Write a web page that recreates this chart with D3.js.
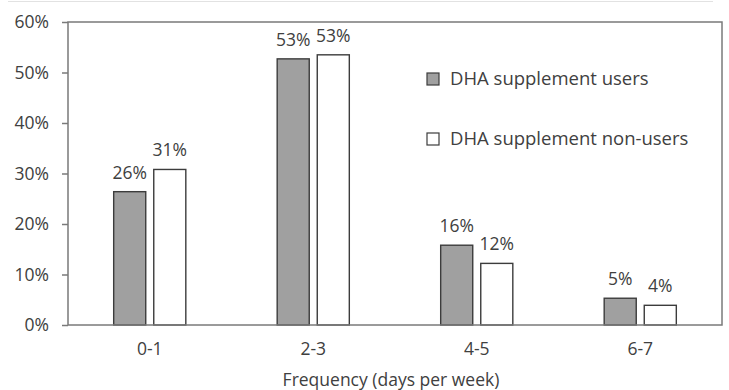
<!DOCTYPE html>
<html>
<head>
<meta charset="utf-8">
<script src="https://cdn.jsdelivr.net/npm/d3@7"></script>
<style>
  html, body { margin: 0; padding: 0; background: #fff; }
  svg { display: block; }
  text { font-family: "Open Sans", sans-serif; fill: #404040; }
</style>
</head>
<body>
<svg id="chart" width="729" height="390"></svg>
<script>
// Frequency categories (days per week)
const categories = ["0-1", "2-3", "4-5", "6-7"];
// Share of respondents in each frequency group (%)
const users = [26.4, 52.7, 15.8, 5.3];
const nonUsers = [30.8, 53.5, 12.2, 3.9];
// Labels printed above the bars
const userLabels = ["26%", "53%", "16%", "5%"];
const nonUserLabels = ["31%", "53%", "12%", "4%"];
const seriesNames = ["DHA supplement users", "DHA supplement non-users"];
const yTicks = [0, 10, 20, 30, 40, 50, 60];

const svg = d3.select("#chart");
const margin = { left: 68, right: 7, top: 22, bottom: 65 };
const W = 729, H = 390;
const x0 = margin.left, x1 = W - margin.right;
const yTop = margin.top, yBot = H - margin.bottom;
const fs = 17.5;

const x = d3.scaleBand().domain(categories).range([x0, x1]).padding(0);
const xs = d3.scaleBand().domain(["users", "non"]).range([0, x.bandwidth()])
  .paddingInner(0.2).paddingOuter(1.14);
const y = d3.scaleLinear().domain([0, 60]).range([yBot, yTop]);

// faint rule across the very top
svg.append("line").attr("x1", 8).attr("x2", 713).attr("y1", 1.5).attr("y2", 1.5)
  .attr("stroke", "#e2e2e2").attr("stroke-width", 1);

const rows = categories.map((c, i) => ({
  cat: c,
  bars: [
    { key: "users", v: users[i], label: userLabels[i], fill: "#a0a0a0" },
    { key: "non", v: nonUsers[i], label: nonUserLabels[i], fill: "#ffffff" }
  ]
}));

const g = svg.selectAll("g.cat").data(rows).join("g")
  .attr("class", "cat")
  .attr("transform", d => `translate(${x(d.cat)},0)`);

g.selectAll("rect").data(d => d.bars).join("rect")
  .attr("x", d => xs(d.key))
  .attr("width", xs.bandwidth())
  .attr("y", d => y(d.v))
  .attr("height", d => y(0) - y(d.v))
  .attr("fill", d => d.fill)
  .attr("stroke", "#3c3c3c")
  .attr("stroke-width", 1.4);

g.selectAll("text.val").data(d => d.bars).join("text")
  .attr("class", "val")
  .attr("x", d => xs(d.key) + xs.bandwidth() / 2)
  .attr("y", d => y(d.v) - 13)
  .attr("text-anchor", "middle")
  .attr("font-size", fs)
  .text(d => d.label);

// plot frame
svg.append("rect")
  .attr("x", x0).attr("y", yTop)
  .attr("width", x1 - x0).attr("height", yBot - yTop)
  .attr("fill", "none").attr("stroke", "#7a7a7a").attr("stroke-width", 1.5);

// y axis
const yAxis = d3.axisLeft(y).tickValues(yTicks).tickSize(6).tickPadding(13)
  .tickFormat(d => d + "%");
const ya = svg.append("g").attr("transform", `translate(${x0},0)`).call(yAxis);
ya.select(".domain").remove();
ya.selectAll("line").attr("stroke", "#7a7a7a").attr("stroke-width", 1.5);
ya.selectAll("text").attr("font-size", fs).attr("fill", "#404040")
  .style("font-family", "'Open Sans', sans-serif");

// x axis labels
const xAxis = d3.axisBottom(x).tickSize(0).tickPadding(18);
const xa = svg.append("g").attr("transform", `translate(0,${yBot})`).call(xAxis);
xa.select(".domain").remove();
xa.selectAll("text").attr("font-size", fs).attr("fill", "#404040")
  .style("font-family", "'Open Sans', sans-serif");

svg.append("text")
  .attr("x", (x0 + x1) / 2 - 4).attr("y", 380)
  .attr("dy", "0.35em")
  .attr("text-anchor", "middle")
  .attr("font-size", fs)
  .text("Frequency (days per week)");

// legend
const legend = svg.append("g").attr("transform", "translate(427,73)");
const li = legend.selectAll("g").data(seriesNames).join("g")
  .attr("transform", (d, i) => `translate(0,${i * 60})`);
li.append("rect").attr("width", 12).attr("height", 12)
  .attr("fill", (d, i) => i === 0 ? "#a0a0a0" : "#ffffff")
  .attr("stroke", "#3c3c3c").attr("stroke-width", 1.2);
li.append("text").attr("x", 23).attr("y", 6).attr("dy", "0.35em")
  .attr("font-size", 18.5)
  .text(d => d);
</script>
</body>
</html>
